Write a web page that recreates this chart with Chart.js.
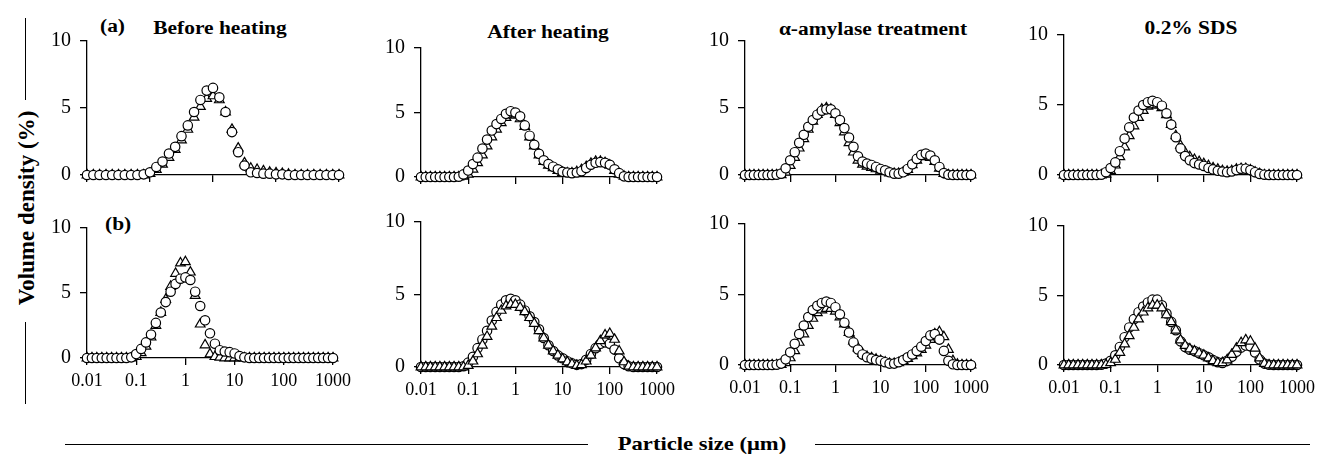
<!DOCTYPE html>
<html>
<head>
<meta charset="utf-8">
<script src="https://cdn.jsdelivr.net/npm/chart.js@4.4.1/dist/chart.umd.min.js"></script>
<style>
  html, body { margin: 0; padding: 0; background: #fff; }
  #stage { position: relative; width: 1318px; height: 463px; overflow: hidden;
           font-family: "Liberation Serif", "Times New Roman", serif; color: #000; }
  #stage canvas { position: absolute; }
  .lbl { position: absolute; font-weight: bold; font-size: 18px; line-height: 1; white-space: nowrap;
         transform-origin: 0 0; transform: scaleX(1.19); }
  .ctr { transform: translateX(-50%) scaleX(1.19); transform-origin: 50% 0; }
  .rule { position: absolute; background: #000; }
  .ytitle { position: absolute; left: 26px; top: 208px; font-weight: bold; font-size: 23px; line-height: 1;
            white-space: nowrap; transform: translate(-50%, -50%) rotate(-90deg); }
</style>
</head>
<body>
<div id="stage">
  <div class="lbl" style="left:100px; top:17px;">(a)</div>
  <div class="lbl ctr" style="left:220px; top:19px;">Before heating</div>
  <div class="lbl ctr" style="left:548px; top:23px;">After heating</div>
  <div class="lbl ctr" style="left:873px; top:20px;">α-amylase treatment</div>
  <div class="lbl ctr" style="left:1191px; top:19px;">0.2% SDS</div>
  <div class="lbl" style="left:105px; top:215px;">(b)</div>

  <div class="ytitle">Volume density (%)</div>
  <div class="rule" style="left:25px; top:18px; width:1px; height:82px;"></div>
  <div class="rule" style="left:25px; top:322px; width:1px; height:82px;"></div>

  <div class="lbl ctr" style="left:702px; top:434px; font-size:19px;">Particle size (μm)</div>
  <div class="rule" style="left:65px; top:444px; width:523px; height:1px;"></div>
  <div class="rule" style="left:815px; top:444px; width:495px; height:1px;"></div>
</div>
<script>
// particle size classes (µm), 10 per decade
const SIZES = [
  0.01, 0.0126, 0.0158, 0.02, 0.0251, 0.0316, 0.0398, 0.0501, 0.0631, 0.0794,
  0.1, 0.126, 0.158, 0.2, 0.251, 0.316, 0.398, 0.501, 0.631, 0.794,
  1, 1.26, 1.58, 2, 2.51, 3.16, 3.98, 5.01, 6.31, 7.94,
  10, 12.6, 15.8, 20, 25.1, 31.6, 39.8, 50.1, 63.1, 79.4,
  100, 126, 158, 200, 251, 316, 398, 501, 631, 794, 1000
];
const DECADES = [0.01, 0.1, 1, 10, 100, 1000];
const Y_TICKS = [0, 5, 10];

// (a) row
const BEFORE_A_CIRCLES = [
  0, 0, 0, 0, 0, 0, 0, 0, 0, 0.05,
  0.2, 0.6, 1.0, 1.6, 2.1, 2.9, 3.7, 4.7, 5.6, 6.3,
  6.5, 5.8, 4.7, 3.2, 1.7, 0.7, 0.2, 0.15, 0.1, 0.1,
  0.05, 0.05, 0, 0, 0, 0, 0, 0, 0, 0, 0
];
const BEFORE_A_TRIANGLES = [
  0, 0, 0, 0, 0, 0, 0, 0, 0, 0,
  0.1, 0.4, 0.8, 1.3, 1.9, 2.6, 3.4, 4.3, 5.1, 5.7,
  5.9, 5.6, 4.7, 3.4, 2.0, 0.9, 0.5, 0.4, 0.3, 0.2,
  0.15, 0.1, 0.05, 0, 0, 0, 0, 0, 0, 0, 0
];
const AFTER_A_CIRCLES = [
  0, 0, 0, 0, 0, 0, 0, 0, 0.02, 0.2,
  0.5, 1.0, 1.5, 2.2, 2.9, 3.6, 4.1, 4.5, 4.9, 5.1,
  5.0, 4.7, 4.0, 3.2, 2.5, 1.8, 1.3, 1.0, 0.8, 0.6,
  0.4, 0.35, 0.3, 0.35, 0.45, 0.7, 0.95, 1.1, 1.15, 1.1,
  0.95, 0.6, 0.3, 0.05, 0, 0, 0, 0, 0, 0, 0
];
const AFTER_A_TRIANGLES = [
  0, 0, 0, 0, 0, 0, 0, 0, 0, 0.05,
  0.2, 0.6, 1.1, 1.7, 2.4, 3.1, 3.7, 4.2, 4.6, 4.8,
  4.8, 4.5, 3.9, 3.1, 2.4, 1.7, 1.2, 0.9, 0.7, 0.5,
  0.35, 0.3, 0.3, 0.4, 0.55, 0.8, 1.05, 1.2, 1.2, 1.1,
  0.9, 0.5, 0.2, 0.05, 0, 0, 0, 0, 0, 0, 0
];
const AMYLASE_A_CIRCLES = [
  0, 0, 0, 0, 0, 0, 0, 0.02, 0.1, 0.5,
  1.1, 1.7, 2.4, 3.0, 3.6, 4.1, 4.5, 4.8, 4.9, 4.9,
  4.6, 4.1, 3.5, 2.8, 2.1, 1.4, 1.0, 0.85, 0.75, 0.6,
  0.45, 0.35, 0.2, 0.1, 0.1, 0.2, 0.45, 0.8, 1.2, 1.5,
  1.6, 1.45, 1.1, 0.6, 0.15, 0.02, 0, 0, 0, 0, 0
];
const AMYLASE_A_TRIANGLES = [
  0, 0, 0, 0, 0, 0, 0, 0, 0.02, 0.2,
  0.7, 1.3, 2.0, 2.7, 3.4, 4.0, 4.5, 4.9, 5.0, 4.9,
  4.5, 3.9, 3.2, 2.4, 1.7, 1.1, 0.8, 0.65, 0.55, 0.45,
  0.35, 0.25, 0.15, 0.1, 0.1, 0.2, 0.4, 0.75, 1.1, 1.35,
  1.4, 1.3, 1.0, 0.5, 0.1, 0, 0, 0, 0, 0, 0
];
const SDS_A_CIRCLES = [
  0, 0, 0, 0, 0, 0, 0, 0, 0.02, 0.2,
  0.5, 0.9, 1.7, 2.6, 3.4, 4.1, 4.6, 5.0, 5.2, 5.3,
  5.2, 4.95, 4.4, 3.6, 2.7, 1.9, 1.35, 1.05, 0.85, 0.75,
  0.65, 0.5, 0.4, 0.3, 0.25, 0.2, 0.25, 0.35, 0.45, 0.45,
  0.35, 0.2, 0.08, 0.02, 0, 0, 0, 0, 0, 0, 0
];
const SDS_A_TRIANGLES = [
  0, 0, 0, 0, 0, 0, 0, 0, 0, 0.05,
  0.3, 0.7, 1.3, 2.0, 2.8, 3.5, 4.1, 4.6, 4.9, 5.0,
  5.0, 4.8, 4.3, 3.6, 2.8, 2.1, 1.6, 1.3, 1.1, 0.95,
  0.8, 0.65, 0.5, 0.4, 0.3, 0.25, 0.3, 0.4, 0.45, 0.45,
  0.35, 0.2, 0.08, 0, 0, 0, 0, 0, 0, 0, 0
];

// (b) row
const BEFORE_B_CIRCLES = [
  0, 0, 0, 0, 0, 0, 0, 0, 0, 0.05,
  0.3, 0.7, 1.2, 1.8, 2.7, 3.5, 4.3, 5.1, 5.7, 6.1,
  6.2, 6.0, 5.1, 4.0, 2.9, 1.9, 1.1, 0.6, 0.5, 0.45,
  0.35, 0.15, 0.05, 0, 0, 0, 0, 0, 0, 0,
  0, 0, 0, 0, 0, 0, 0, 0, 0, 0, 0
];
const BEFORE_B_TRIANGLES = [
  0, 0, 0, 0, 0, 0, 0, 0, 0, 0,
  0.1, 0.4, 0.9, 1.6, 2.5, 3.5, 4.5, 5.5, 6.5, 7.3,
  7.4, 6.6, 4.8, 2.6, 1.0, 0.3, 0.1, 0.05, 0, 0,
  0, 0, 0, 0, 0, 0, 0, 0, 0, 0,
  0, 0, 0, 0, 0, 0, 0, 0, 0, 0, 0
];
const AFTER_B_CIRCLES = [
  0, 0, 0, 0, 0, 0, 0, 0, 0, 0.05,
  0.3, 0.7, 1.3, 1.9, 2.5, 3.2, 3.8, 4.3, 4.6, 4.7,
  4.6, 4.3, 3.9, 3.5, 3.1, 2.6, 2.0, 1.5, 1.1, 0.8,
  0.6, 0.4, 0.25, 0.15, 0.2, 0.5, 0.9, 1.3, 1.6, 1.7,
  1.6, 1.2, 0.6, 0.2, 0.05, 0, 0, 0, 0, 0, 0
];
const AFTER_B_TRIANGLES = [
  0, 0, 0, 0, 0, 0, 0, 0, 0, 0,
  0.1, 0.4, 0.9, 1.5, 2.1, 2.8, 3.4, 3.9, 4.2, 4.3,
  4.3, 4.1, 3.8, 3.4, 3.0, 2.5, 2.0, 1.5, 1.1, 0.8,
  0.55, 0.35, 0.2, 0.1, 0.15, 0.4, 0.8, 1.3, 1.8, 2.2,
  2.3, 1.9, 1.1, 0.35, 0.05, 0, 0, 0, 0, 0, 0
];
const AMYLASE_B_CIRCLES = [
  0, 0, 0, 0, 0, 0, 0, 0.02, 0.1, 0.4,
  0.9, 1.5, 2.2, 2.8, 3.4, 3.9, 4.2, 4.4, 4.5, 4.4,
  4.1, 3.6, 3.0, 2.3, 1.6, 1.1, 0.75, 0.55, 0.45, 0.35,
  0.3, 0.2, 0.1, 0.1, 0.2, 0.35, 0.55, 0.75, 1.0, 1.3,
  1.7, 2.1, 2.2, 1.8, 1.0, 0.3, 0.05, 0, 0, 0, 0
];
const AMYLASE_B_TRIANGLES = [
  0, 0, 0, 0, 0, 0, 0, 0, 0.02, 0.15,
  0.5, 1.0, 1.6, 2.2, 2.8, 3.3, 3.7, 3.9, 4.0, 4.0,
  3.8, 3.4, 2.9, 2.3, 1.7, 1.2, 0.8, 0.6, 0.5, 0.4,
  0.3, 0.2, 0.1, 0.1, 0.15, 0.3, 0.45, 0.65, 0.85, 1.1,
  1.4, 1.8, 2.2, 2.35, 2.0, 1.1, 0.3, 0.05, 0, 0, 0
];
const SDS_B_CIRCLES = [
  0, 0, 0, 0, 0, 0, 0, 0, 0.02, 0.1,
  0.3, 0.7, 1.3, 2.0, 2.7, 3.3, 3.8, 4.2, 4.5, 4.7,
  4.7, 4.3, 3.7, 3.1, 2.5, 1.7, 1.3, 1.1, 1.0, 0.85,
  0.7, 0.55, 0.35, 0.2, 0.15, 0.3, 0.6, 0.95, 1.25, 1.4,
  1.35, 0.9, 0.4, 0.1, 0.02, 0, 0, 0, 0, 0, 0
];
const SDS_B_TRIANGLES = [
  0, 0, 0, 0, 0, 0, 0, 0, 0, 0.02,
  0.15, 0.4, 0.9, 1.5, 2.1, 2.7, 3.3, 3.8, 4.1, 4.3,
  4.3, 4.1, 3.6, 3.1, 2.5, 1.8, 1.4, 1.15, 1.0, 0.85,
  0.7, 0.5, 0.3, 0.15, 0.15, 0.35, 0.75, 1.2, 1.6, 1.8,
  1.7, 1.2, 0.5, 0.1, 0, 0, 0, 0, 0, 0, 0
];

/*
    LAYOUT: plot area of every panel, in page pixels
*/
const PANELS = [
  { left: 87,   right: 339,  top: 32,  bottom: 175, xMax: 100,  labels: false, circles: BEFORE_A_CIRCLES,  triangles: BEFORE_A_TRIANGLES,  trianglesOnTop: false },
  { left: 421,  right: 657,  top: 39,  bottom: 177, xMax: 1000, labels: false, circles: AFTER_A_CIRCLES,   triangles: AFTER_A_TRIANGLES,   trianglesOnTop: false },
  { left: 745,  right: 971,  top: 32,  bottom: 175, xMax: 1000, labels: false, circles: AMYLASE_A_CIRCLES, triangles: AMYLASE_A_TRIANGLES, trianglesOnTop: false },
  { left: 1064, right: 1297, top: 26,  bottom: 175, xMax: 1000, labels: false, circles: SDS_A_CIRCLES,     triangles: SDS_A_TRIANGLES,     trianglesOnTop: false },
  { left: 87,   right: 333,  top: 219, bottom: 358, xMax: 1000, labels: true,  circles: BEFORE_B_CIRCLES,  triangles: BEFORE_B_TRIANGLES,  trianglesOnTop: false },
  { left: 421,  right: 657,  top: 213, bottom: 367, xMax: 1000, labels: true,  circles: AFTER_B_CIRCLES,   triangles: AFTER_B_TRIANGLES,   trianglesOnTop: true },
  { left: 745,  right: 971,  top: 215, bottom: 365, xMax: 1000, labels: true,  circles: AMYLASE_B_CIRCLES, triangles: AMYLASE_B_TRIANGLES, trianglesOnTop: false },
  { left: 1064, right: 1297, top: 217, bottom: 365, xMax: 1000, labels: true,  circles: SDS_B_CIRCLES,     triangles: SDS_B_TRIANGLES,     trianglesOnTop: true }
];

const AXIS_W = 50;   // room for y tick labels
const AXIS_H = 30;   // room for x tick labels
const PAD_T = 12;
const PAD_R = 25;
const TICK_FONT = { family: '"Liberation Serif", "Times New Roman", serif', size: 18 };
const Y_TICK_FONT = { family: '"Liberation Serif", "Times New Roman", serif', size: 20 };
const stage = document.getElementById('stage');

const marker = (style, radius, order) => ({
  pointStyle: style,
  pointRadius: radius,
  backgroundColor: '#fff',
  borderColor: '#000',
  borderWidth: 1.2,
  showLine: false,
  clip: false,
  order
});

const axisLook = {
  border: { display: true, color: '#000', width: 1.3 },
  grid: { drawOnChartArea: false, drawTicks: true, tickLength: 7, color: '#000', lineWidth: 1.3 }
};

const drawPanel = (p) => {
  const canvas = document.createElement('canvas');
  const w = p.right - p.left + AXIS_W + PAD_R;
  const h = p.bottom - p.top + PAD_T + AXIS_H;
  canvas.width = w;
  canvas.height = h;
  canvas.style.width = w + 'px';
  canvas.style.height = h + 'px';
  canvas.style.left = (p.left - AXIS_W) + 'px';
  canvas.style.top = (p.top - PAD_T) + 'px';
  stage.appendChild(canvas);

  const toPoints = (vals) => vals.map((v, i) => ({ x: SIZES[i], y: v }));

  new Chart(canvas, {
    type: 'scatter',
    data: {
      datasets: [
        { label: 'circles', data: toPoints(p.circles), ...marker('circle', 4.7, p.trianglesOnTop ? 1 : 0) },
        { label: 'triangles', data: toPoints(p.triangles), ...marker('triangle', 5.6, p.trianglesOnTop ? 0 : 1) }
      ]
    },
    options: {
      responsive: false,
      animation: false,
      devicePixelRatio: 1,
      events: [],
      layout: { padding: { top: PAD_T, right: PAD_R, left: 0, bottom: 0 } },
      plugins: { legend: { display: false }, tooltip: { enabled: false } },
      scales: {
        x: {
          type: 'logarithmic',
          min: 0.01,
          max: p.xMax,
          afterBuildTicks: (axis) => {
            axis.ticks = DECADES.filter((v) => v <= p.xMax).map((v) => ({ value: v }));
          },
          afterFit: (axis) => { axis.height = AXIS_H; },
          ...axisLook,
          ticks: {
            display: p.labels,
            color: '#000',
            padding: 5,
            maxRotation: 0,
            autoSkip: false,
            font: TICK_FONT,
            callback: (v) => String(v)
          }
        },
        y: {
          min: 0,
          max: 10,
          afterBuildTicks: (axis) => {
            axis.ticks = Y_TICKS.map((v) => ({ value: v }));
          },
          afterFit: (axis) => { axis.width = AXIS_W; },
          ...axisLook,
          ticks: { color: '#000', padding: 9, font: Y_TICK_FONT, callback: (v) => String(v) }
        }
      }
    }
  });
};

PANELS.forEach(drawPanel);
</script>
</body>
</html>
